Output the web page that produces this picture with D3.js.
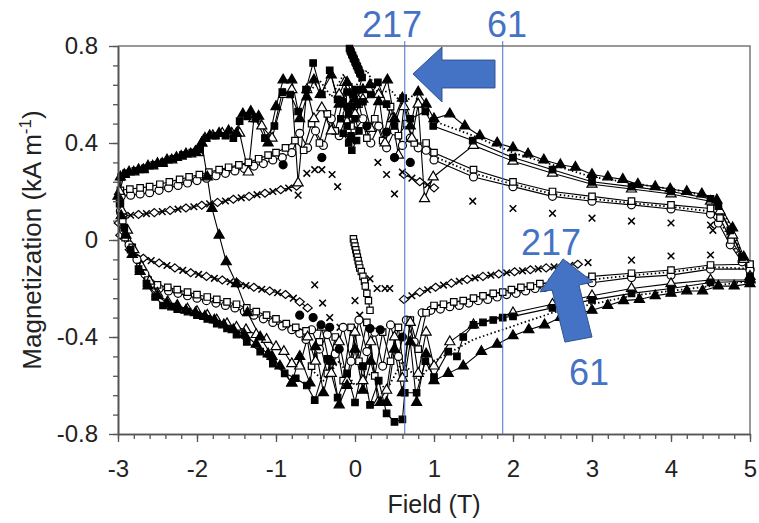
<!DOCTYPE html>
<html>
  <script src="https://d3js.org/d3.v7.min.js" type="text/JavaScript"></script>
  <body style="margin:0">
    <svg></svg>
    <script>
// axis ticks
var fieldTicks = [-3, -2, -1, 0, 1, 2, 3, 4, 5];
var magTicks = [-0.8, -0.4, 0, 0.4, 0.8];

// series, [field (T), magnetization (kA/m)]
var triFilled = [[5.0,-0.18],[4.8,-0.19],[4.6,-0.19],[4.4,-0.21],[4.2,-0.21],[4.0,-0.22],[3.8,-0.23],[3.6,-0.245],[3.4,-0.25],[3.2,-0.27],[3.0,-0.29],[2.8,-0.305],[2.6,-0.32],[2.4,-0.35],[2.2,-0.37],[2.0,-0.395],[1.8,-0.43],[1.6,-0.46],[1.37,-0.52],[1.18,-0.55],[1.0,-0.58],[0.9,-0.47],[0.78,-0.67],[0.7,-0.42],[0.6,-0.63],[0.5,-0.45],[0.4,-0.67],[0.32,-0.67],[0.2,-0.5],[0.1,-0.62],[0.0,-0.45],[-0.1,-0.6],[-0.2,-0.68],[-0.3,-0.5],[-0.4,-0.63],[-0.5,-0.44],[-0.57,-0.59],[-0.7,-0.48],[-0.8,-0.59],[-0.95,-0.52],[-1.1,-0.47],[-1.25,-0.43],[-1.4,-0.39],[-1.54,-0.37],[-1.66,-0.35],[-1.78,-0.33],[-1.9,-0.315],[-2.02,-0.3],[-2.14,-0.29],[-2.25,-0.275],[-2.38,-0.26],[-2.5,-0.23],[-2.62,-0.19],[-2.72,-0.13],[-2.82,-0.06],[-2.9,0.02],[-2.96,0.1],[-3.0,0.18],[-2.97,0.26],[-2.86,0.28],[-2.74,0.29],[-2.62,0.305],[-2.5,0.315],[-2.38,0.33],[-2.26,0.34],[-2.14,0.355],[-2.02,0.365],[-1.94,0.40],[-1.84,0.43],[-1.72,0.44],[-1.6,0.45],[-1.5,0.44],[-1.42,0.52],[-1.32,0.53],[-1.22,0.51],[-1.1,0.40],[-1.0,0.55],[-0.91,0.66],[-0.8,0.66],[-0.7,0.50],[-0.61,0.59],[-0.52,0.66],[-0.44,0.60],[-0.3,0.68],[-0.2,0.56],[-0.1,0.65],[0.0,0.58],[0.1,0.62],[0.19,0.64],[0.3,0.57],[0.41,0.66],[0.5,0.50],[0.6,0.585],[0.7,0.47],[0.8,0.61],[0.9,0.56],[1.0,0.50],[1.2,0.52],[1.39,0.47],[1.58,0.43],[1.8,0.40],[2.0,0.38],[2.19,0.355],[2.39,0.33],[2.6,0.31],[2.79,0.30],[3.0,0.27],[3.2,0.26],[3.39,0.25],[3.58,0.23],[3.8,0.22],[3.99,0.21],[4.2,0.20],[4.39,0.19],[4.58,0.165],[4.78,0.05],[4.92,-0.07],[5.0,-0.16]];

var triSweep = [[-1.94,0.40],[-1.87,0.26],[-1.81,0.13],[-1.72,0.02],[-1.63,-0.09],[-1.5,-0.18],[-1.36,-0.30],[-1.2,-0.40],[-1.05,-0.48],[-0.8,-0.59]];

var sqFilled = [[5.0,-0.17],[4.5,-0.175],[4.0,-0.2],[3.5,-0.22],[3.0,-0.247],[2.5,-0.28],[2.0,-0.315],[1.87,-0.32],[1.75,-0.33],[1.62,-0.34],[1.5,-0.35],[1.37,-0.40],[1.29,-0.48],[1.18,-0.46],[1.0,-0.565],[0.89,-0.5],[0.78,-0.63],[0.63,-0.63],[0.6,-0.74],[0.5,-0.75],[0.4,-0.715],[0.3,-0.58],[0.19,-0.68],[0.1,-0.52],[0.0,-0.67],[-0.1,-0.55],[-0.22,-0.65],[-0.35,-0.49],[-0.51,-0.66],[-0.61,-0.6],[-0.75,-0.57],[-0.89,-0.55],[-1.04,-0.51],[-1.2,-0.46],[-1.37,-0.42],[-1.5,-0.39],[-1.62,-0.365],[-1.75,-0.345],[-1.87,-0.325],[-2.0,-0.31],[-2.12,-0.295],[-2.25,-0.285],[-2.33,-0.275],[-2.43,-0.27],[-2.53,-0.235],[-2.64,-0.18],[-2.74,-0.12],[-2.84,-0.04],[-2.92,0.05],[-2.98,0.15],[-2.96,0.26],[-2.9,0.275],[-2.78,0.285],[-2.66,0.295],[-2.54,0.31],[-2.42,0.32],[-2.3,0.335],[-2.18,0.35],[-2.06,0.36],[-1.96,0.375],[-1.88,0.42],[-1.76,0.43],[-1.64,0.43],[-1.54,0.42],[-1.46,0.49],[-1.36,0.51],[-1.26,0.50],[-1.14,0.42],[-1.02,0.47],[-0.92,0.61],[-0.82,0.60],[-0.72,0.53],[-0.62,0.62],[-0.53,0.73],[-0.42,0.60],[-0.32,0.70],[-0.22,0.58],[-0.1,0.55],[0.0,0.62],[0.1,0.57],[0.2,0.60],[0.29,0.65],[0.4,0.56],[0.5,0.47],[0.61,0.585],[0.7,0.50],[0.89,0.53],[0.99,0.47],[1.49,0.41],[2.0,0.34],[2.5,0.29],[3.0,0.24],[3.5,0.22],[4.0,0.20],[4.5,0.17],[4.6,0.14],[4.75,0.04],[4.9,-0.07],[5.0,-0.15]];

var triOpen = [[5.0,-0.165],[4.5,-0.165],[4.0,-0.18],[3.5,-0.2],[3.0,-0.23],[2.5,-0.265],[2.0,-0.3],[1.5,-0.35],[1.2,-0.42],[1.0,-0.52],[0.9,-0.38],[0.8,-0.55],[0.7,-0.34],[0.6,-0.57],[0.5,-0.40],[0.4,-0.62],[0.29,-0.67],[0.2,-0.42],[0.1,-0.58],[0.0,-0.38],[-0.1,-0.58],[-0.2,-0.42],[-0.3,-0.55],[-0.42,-0.36],[-0.5,-0.50],[-0.6,-0.40],[-0.7,-0.52],[-0.8,-0.51],[-0.9,-0.46],[-1.0,-0.44],[-1.12,-0.41],[-1.25,-0.39],[-1.38,-0.37],[-1.5,-0.36],[-1.62,-0.345],[-1.75,-0.33],[-1.87,-0.31],[-2.0,-0.295],[-2.12,-0.285],[-2.25,-0.27],[-2.37,-0.255],[-2.5,-0.22],[-2.6,-0.17],[-2.7,-0.11],[-2.8,-0.04],[-2.88,0.04],[-2.95,0.12],[-2.98,0.2],[-2.92,0.27],[-2.8,0.28],[-2.68,0.29],[-2.56,0.305],[-2.44,0.315],[-2.32,0.33],[-2.2,0.345],[-2.08,0.355],[-1.98,0.36],[-1.9,0.42],[-1.8,0.43],[-1.68,0.44],[-1.56,0.44],[-1.46,0.44],[-1.35,0.28],[-1.28,0.50],[-1.18,0.47],[-1.05,0.42],[-0.9,0.60],[-0.8,0.62],[-0.72,0.235],[-0.61,0.62],[-0.52,0.50],[-0.42,0.545],[-0.3,0.45],[-0.2,0.60],[-0.13,0.65],[0.0,0.52],[0.1,0.58],[0.2,0.46],[0.3,0.60],[0.38,0.40],[0.47,0.50],[0.55,0.35],[0.62,0.55],[0.72,0.42],[0.8,0.56],[0.88,0.17],[0.99,0.26],[1.5,0.39],[2.0,0.325],[2.5,0.275],[3.0,0.23],[3.5,0.21],[4.0,0.19],[4.5,0.16],[4.62,0.12],[4.78,0.02],[4.92,-0.08],[5.0,-0.15]];

var sqOpen = [[5.0,-0.1],[4.5,-0.103],[4.0,-0.124],[3.5,-0.137],[3.0,-0.15],[2.5,-0.175],[2.34,-0.18],[2.22,-0.19],[2.1,-0.195],[1.98,-0.205],[1.87,-0.215],[1.75,-0.22],[1.62,-0.23],[1.5,-0.24],[1.37,-0.25],[1.25,-0.255],[1.12,-0.265],[1.0,-0.27],[0.9,-0.3],[0.8,-0.45],[0.7,-0.33],[0.62,-0.55],[0.55,-0.36],[0.45,-0.5],[0.35,-0.38],[0.25,-0.56],[0.15,-0.34],[0.05,-0.5],[-0.05,-0.36],[-0.15,-0.58],[-0.25,-0.4],[-0.35,-0.55],[-0.45,-0.42],[-0.55,-0.52],[-0.62,-0.375],[-0.75,-0.36],[-0.87,-0.345],[-1.0,-0.325],[-1.12,-0.31],[-1.25,-0.295],[-1.37,-0.28],[-1.5,-0.265],[-1.62,-0.255],[-1.75,-0.245],[-1.87,-0.235],[-2.0,-0.225],[-2.12,-0.215],[-2.25,-0.205],[-2.37,-0.195],[-2.5,-0.185],[-2.62,-0.165],[-2.72,-0.11],[-2.82,-0.03],[-2.91,0.01],[-2.94,0.08],[-2.97,0.15],[-2.97,0.205],[-2.85,0.21],[-2.72,0.215],[-2.6,0.22],[-2.47,0.23],[-2.35,0.24],[-2.22,0.25],[-2.1,0.26],[-1.97,0.27],[-1.85,0.28],[-1.72,0.29],[-1.6,0.30],[-1.47,0.31],[-1.35,0.32],[-1.22,0.335],[-1.1,0.35],[-1.0,0.36],[-0.88,0.38],[-0.76,0.41],[-0.65,0.37],[-0.55,0.48],[-0.45,0.40],[-0.35,0.52],[-0.25,0.45],[-0.15,0.58],[-0.05,0.47],[0.05,0.56],[0.15,0.42],[0.25,0.50],[0.35,0.41],[0.45,0.55],[0.55,0.43],[0.65,0.48],[0.75,0.40],[0.9,0.40],[1.0,0.36],[1.5,0.29],[2.0,0.24],[2.5,0.20],[3.0,0.18],[3.5,0.16],[4.0,0.145],[4.5,0.13],[4.62,0.09],[4.76,0.0],[4.9,-0.07],[5.0,-0.1]];

var circOpen = [[5.0,-0.12],[4.5,-0.12],[4.0,-0.145],[3.5,-0.155],[3.0,-0.176],[2.5,-0.19],[2.4,-0.195],[2.28,-0.2],[2.16,-0.21],[2.04,-0.22],[1.92,-0.225],[1.8,-0.235],[1.68,-0.245],[1.56,-0.25],[1.44,-0.26],[1.32,-0.27],[1.2,-0.275],[1.08,-0.285],[0.96,-0.29],[0.85,-0.3],[0.75,-0.42],[0.65,-0.33],[0.55,-0.48],[0.45,-0.35],[0.35,-0.52],[0.25,-0.38],[0.15,-0.46],[0.05,-0.33],[-0.05,-0.5],[-0.15,-0.36],[-0.25,-0.47],[-0.35,-0.39],[-0.45,-0.45],[-0.55,-0.37],[-0.62,-0.41],[-0.7,-0.385],[-0.8,-0.37],[-0.92,-0.355],[-1.04,-0.34],[-1.16,-0.325],[-1.28,-0.31],[-1.4,-0.295],[-1.52,-0.28],[-1.64,-0.27],[-1.76,-0.26],[-1.88,-0.25],[-2.0,-0.24],[-2.12,-0.23],[-2.24,-0.22],[-2.36,-0.21],[-2.48,-0.2],[-2.58,-0.18],[-2.66,-0.14],[-2.76,-0.08],[-2.86,-0.02],[-2.93,0.04],[-2.97,0.12],[-2.96,0.18],[-2.84,0.185],[-2.72,0.19],[-2.6,0.195],[-2.48,0.205],[-2.36,0.215],[-2.24,0.225],[-2.12,0.235],[-2.0,0.245],[-1.88,0.255],[-1.76,0.265],[-1.64,0.275],[-1.52,0.285],[-1.4,0.295],[-1.28,0.305],[-1.16,0.315],[-1.04,0.33],[-0.92,0.34],[-0.8,0.36],[-0.7,0.44],[-0.6,0.38],[-0.5,0.45],[-0.4,0.39],[-0.3,0.50],[-0.2,0.43],[-0.1,0.52],[0.0,0.45],[0.1,0.50],[0.2,0.40],[0.3,0.47],[0.4,0.38],[0.5,0.45],[0.6,0.39],[0.7,0.42],[0.8,0.38],[0.9,0.37],[1.0,0.33],[1.5,0.26],[2.0,0.22],[2.5,0.18],[3.0,0.16],[3.5,0.145],[4.0,0.128],[4.5,0.107],[4.6,0.07],[4.75,-0.02],[4.9,-0.09],[5.0,-0.125]];

var diamondLoop = [[1.0,0.215],[0.82,0.24],[0.62,0.27],null,[-0.74,0.222],[-0.94,0.207],[-1.14,0.193],[-1.34,0.18],[-1.54,0.168],[-1.74,0.155],[-1.94,0.143],[-2.14,0.132],[-2.34,0.122],[-2.54,0.113],[-2.74,0.105],[-2.94,0.10],[-2.99,0.07],[-2.97,0.02],[-2.85,-0.04],[-2.68,-0.075],[-2.48,-0.095],[-2.28,-0.115],[-2.08,-0.135],[-1.88,-0.15],[-1.68,-0.165],[-1.48,-0.18],[-1.28,-0.195],[-1.08,-0.21],[-0.88,-0.225],[-0.7,-0.255],[-0.6,-0.28],null,[0.62,-0.245],[0.82,-0.215],[1.02,-0.195],[1.22,-0.178],[1.42,-0.163],[1.62,-0.15],[1.82,-0.14],[2.02,-0.131],[2.22,-0.123],[2.42,-0.115],[2.62,-0.108],[2.82,-0.1]];

var crossChain = [[0.92,0.228],[0.72,0.255],[-0.84,0.214],[-1.04,0.2],[-1.24,0.187],[-1.44,0.174],[-1.64,0.161],[-1.84,0.149],[-2.04,0.137],[-2.24,0.127],[-2.44,0.117],[-2.64,0.109],[-2.84,0.102],[-2.58,-0.085],[-2.38,-0.105],[-2.18,-0.125],[-1.98,-0.142],[-1.78,-0.158],[-1.58,-0.172],[-1.38,-0.188],[-1.18,-0.203],[-0.98,-0.217],[-0.78,-0.24],[0.72,-0.23],[0.92,-0.205],[1.12,-0.186],[1.32,-0.17],[1.52,-0.156],[1.72,-0.145],[1.92,-0.135],[2.12,-0.127],[2.32,-0.119],[2.52,-0.111],[2.72,-0.104],[2.95,-0.093]];

var crossScatter = [[-0.72,0.185],[-0.61,0.275],[-0.51,0.29],[-0.42,0.29],[-0.29,0.27],[-0.22,0.22],[0.29,0.32],[0.4,0.27],[0.5,0.19],[0.6,0.28],[1.49,0.16],[2.0,0.13],[2.5,0.11],[3.0,0.09],[3.5,0.078],[4.0,0.07],[4.5,0.062],[-0.51,-0.185],[-0.41,-0.26],[-0.32,-0.32],[-0.19,-0.36],[0.0,-0.25],[0.06,-0.31],[0.19,-0.16],[0.28,-0.2],[0.38,-0.2],[0.44,-0.2],[3.5,-0.083],[4.0,-0.066],[4.5,-0.062],[4.53,0.04]];

var circFilled = [[-0.91,0.31],[-0.42,0.34],[0.4,0.445],[0.5,0.34],[0.7,0.32],[-0.05,0.42],[0.15,0.47],[-0.7,-0.31],[-0.53,-0.32],[-0.43,-0.35],[-0.32,-0.36],[0.19,-0.365],[0.32,-0.37],[0.6,-0.4],[-0.2,-0.45]];

var initTop = [[-0.07,0.79],[-0.06,0.78],[-0.05,0.775],[-0.04,0.765],[-0.03,0.76],[-0.02,0.75],[-0.01,0.745],[0.0,0.735],[0.01,0.73],[0.02,0.72],[0.03,0.715],[0.04,0.705],[0.05,0.70],[0.06,0.69],[0.07,0.685],[0.09,0.67],[0.05,0.62],[-0.02,0.6],[-0.1,0.61],[-0.15,0.57],[-0.05,0.55],[0.03,0.56],[-0.08,0.52],[-0.18,0.5],[-0.1,0.47],[0.0,0.5],[0.05,0.45],[-0.05,0.43],[-0.15,0.44],[-0.08,0.40],[0.02,0.41],[-0.04,0.37]];

var initBottom = [[-0.02,0.005],[-0.01,-0.01],[0.0,-0.025],[0.01,-0.04],[0.02,-0.055],[0.03,-0.07],[0.04,-0.085],[0.05,-0.1],[0.06,-0.115],[0.08,-0.13],[0.1,-0.15],[0.12,-0.17],[0.13,-0.19],[0.15,-0.22],[0.17,-0.25],[0.19,-0.29]];

var dotOuter = [[-0.6,0.6],[-0.45,0.66],[-0.3,0.59],[-0.15,0.68],[0.0,0.63],[0.15,0.7],[0.3,0.6],[0.45,0.62],[0.6,0.56],[0.75,0.6],[0.9,0.52],[1.0,0.49],[1.5,0.43],[2.0,0.36],[2.5,0.31],[3.0,0.26],[3.5,0.235],[4.0,0.21],[4.5,0.18],[4.62,0.14],[4.78,0.04],[4.92,-0.08],[5.0,-0.17],[4.5,-0.19],[4.0,-0.21],[3.5,-0.23],[3.0,-0.265],[2.5,-0.3],[2.0,-0.355],[1.5,-0.41],[1.0,-0.5],[0.8,-0.58],[0.6,-0.5],[0.4,-0.62],[0.2,-0.55],[0.0,-0.6],[-0.2,-0.5],[-0.4,-0.58],[-0.6,-0.52]];

var dotMid = [[1.0,0.345],[1.5,0.275],[2.0,0.23],[2.5,0.19],[3.0,0.17],[3.5,0.152],[4.0,0.137],[4.5,0.118],[4.62,0.08],[4.76,-0.01],[4.9,-0.085],[5.0,-0.118],[4.5,-0.112],[4.0,-0.132],[3.5,-0.146],[3.0,-0.163],[2.5,-0.182],[2.0,-0.21],[1.5,-0.245],[1.0,-0.275]];

// blue annotations: guide lines at these fields
var guideFields = [0.63, 1.87];
var noteLabels = [
  {text: '217', f: 0.468, m: 0.837},
  {text: '61', f: 1.924, m: 0.837},
  {text: '217', f: 2.481, m: -0.062},
  {text: '61', f: 2.962, m: -0.598}
];
var arrowLeft = [[0.734,0.685],[1.101,0.796],[1.101,0.742],[1.772,0.742],[1.772,0.627],[1.101,0.627],[1.101,0.569]];
var arrowUp = [[2.633,-0.078],[3.013,-0.173],[2.835,-0.186],[3.0,-0.4],[2.658,-0.421],[2.494,-0.206],[2.342,-0.214]];

var font = 'Liberation Sans, Arial, sans-serif';

var x = d3.scaleLinear().domain([-3, 5]).range([118, 750]);
var y = d3.scaleLinear().domain([-0.8, 0.8]).range([434, 46]);

var svg = d3.select('svg').attr('width', 759).attr('height', 523);
svg.append('rect').attr('width', 759).attr('height', 523).attr('fill', 'white');

// top and right border of the plot
svg.append('path')
  .attr('d', `M${x(-3)},${y(0.8)}H${x(5)}V${y(-0.8)}`)
  .attr('fill', 'none').attr('stroke', '#777').attr('stroke-width', 1.5);

var markerPath = {
  triangle: d3.symbol(d3.symbolTriangle, 44)(),
  square: d3.symbol(d3.symbolSquare, 42)(),
  circle: d3.symbol(d3.symbolCircle, 50)(),
  diamond: 'M0,-4L4.6,0L0,4L-4.6,0Z',
  cross: 'M-3.3,-3.3L3.3,3.3M-3.3,3.3L3.3,-3.3',
  small: d3.symbol(d3.symbolSquare, 40)()
};

var seriesList = [
  {data: dotOuter, marker: null, fill: 'none', line: 'dotted'},
  {data: dotMid, marker: null, fill: 'none', line: 'dotted'},
  {data: diamondLoop, marker: 'diamond', fill: 'white', line: 'solid'},
  {data: crossChain, marker: 'cross', fill: 'none', line: 'none'},
  {data: crossScatter, marker: 'cross', fill: 'none', line: 'none'},
  {data: circOpen, marker: 'circle', fill: 'white', line: 'solid'},
  {data: sqOpen, marker: 'square', fill: 'white', line: 'solid'},
  {data: triOpen, marker: 'triangle', fill: 'white', line: 'solid'},
  {data: circFilled, marker: 'circle', fill: 'black', line: 'none'},
  {data: sqFilled, marker: 'square', fill: 'black', line: 'solid'},
  {data: triFilled, marker: 'triangle', fill: 'black', line: 'solid'},
  {data: triSweep, marker: 'triangle', fill: 'black', line: 'solid'},
  {data: initTop, marker: 'small', fill: 'black', line: 'solid'},
  {data: initBottom, marker: 'small', fill: 'white', line: 'solid'}
];

var lineGen = d3.line().defined(d => d).x(d => x(d[0])).y(d => y(d[1]));

var plot = svg.append('g');

seriesList.forEach(s => {
  if (s.line == 'none') return;
  plot.append('path')
    .attr('d', lineGen(s.data))
    .attr('fill', 'none')
    .attr('stroke', 'black')
    .attr('stroke-width', s.line == 'dotted' ? 1.8 : 1.1)
    .attr('stroke-dasharray', s.line == 'dotted' ? '1.5,2.5' : null);
});

seriesList.forEach(s => {
  if (!s.marker) return;
  plot.append('g')
    .selectAll('path')
    .data(s.data.filter(d => d))
    .enter()
    .append('path')
      .attr('transform', d => `translate(${x(d[0])},${y(d[1])})`)
      .attr('d', markerPath[s.marker])
      .attr('fill', s.fill)
      .attr('stroke', 'black')
      .attr('stroke-width', s.marker == 'cross' ? 1.5 : 1.2);
});

// axes
var xMajor = d3.axisBottom(x).tickValues(fieldTicks).tickSize(8).tickSizeOuter(0)
  .tickPadding(18).tickFormat(d => String(d));
var xMinor = d3.axisBottom(x).tickValues(d3.range(-3, 5.001, 0.2)).tickSize(5).tickSizeOuter(0).tickFormat('');
var yMajor = d3.axisLeft(y).tickValues(magTicks).tickSize(9).tickSizeOuter(0)
  .tickPadding(11).tickFormat(d => String(d));
var yMinor = d3.axisLeft(y).tickValues(d3.range(-0.8, 0.8001, 0.08)).tickSize(5).tickSizeOuter(0).tickFormat('');

[xMinor, xMajor].forEach(a => {
  svg.append('g').attr('transform', `translate(0,${y(-0.8)})`).call(a);
});
[yMinor, yMajor].forEach(a => {
  svg.append('g').attr('transform', `translate(${x(-3)},0)`).call(a);
});

svg.selectAll('.domain').attr('stroke', '#555').attr('stroke-width', 1.6);
svg.selectAll('.tick line').attr('stroke', '#555').attr('stroke-width', 1.3);
svg.selectAll('.tick text').attr('fill', '#222').style('font-family', font).style('font-size', '24px');

svg.append('text')
  .attr('x', 434).attr('y', 513)
  .attr('text-anchor', 'middle')
  .style('font-family', font).style('font-size', '25px').attr('fill', '#222')
  .text('Field (T)');

var yTitle = svg.append('text')
  .attr('transform', 'translate(41,240) rotate(-90)')
  .attr('text-anchor', 'middle')
  .style('font-family', font).style('font-size', '26px').attr('fill', '#222');
yTitle.append('tspan').text('Magnetization (kA m');
yTitle.append('tspan').attr('dy', -10).style('font-size', '17px').text('-1');
yTitle.append('tspan').attr('dy', 10).text(')');

// annotations
var blue = '#4472C4';
svg.selectAll('line.guide')
  .data(guideFields)
  .enter()
  .append('line')
    .attr('class', 'guide')
    .attr('x1', d => x(d)).attr('x2', d => x(d))
    .attr('y1', y(0.82)).attr('y2', y(-0.8))
    .attr('stroke', blue).attr('stroke-width', 1);

var arrowLine = d3.line().x(d => x(d[0])).y(d => y(d[1])).curve(d3.curveLinearClosed);
[arrowLeft, arrowUp].forEach(a => {
  svg.append('path')
    .attr('d', arrowLine(a))
    .attr('fill', blue).attr('stroke', '#2F528F').attr('stroke-width', 1);
});

svg.selectAll('text.note')
  .data(noteLabels)
  .enter()
  .append('text')
    .attr('class', 'note')
    .attr('x', d => x(d.f)).attr('y', d => y(d.m))
    .attr('text-anchor', 'middle')
    .style('font-family', font).style('font-size', '36px')
    .attr('fill', blue)
    .text(d => d.text);
    </script>
  </body>
</html>
